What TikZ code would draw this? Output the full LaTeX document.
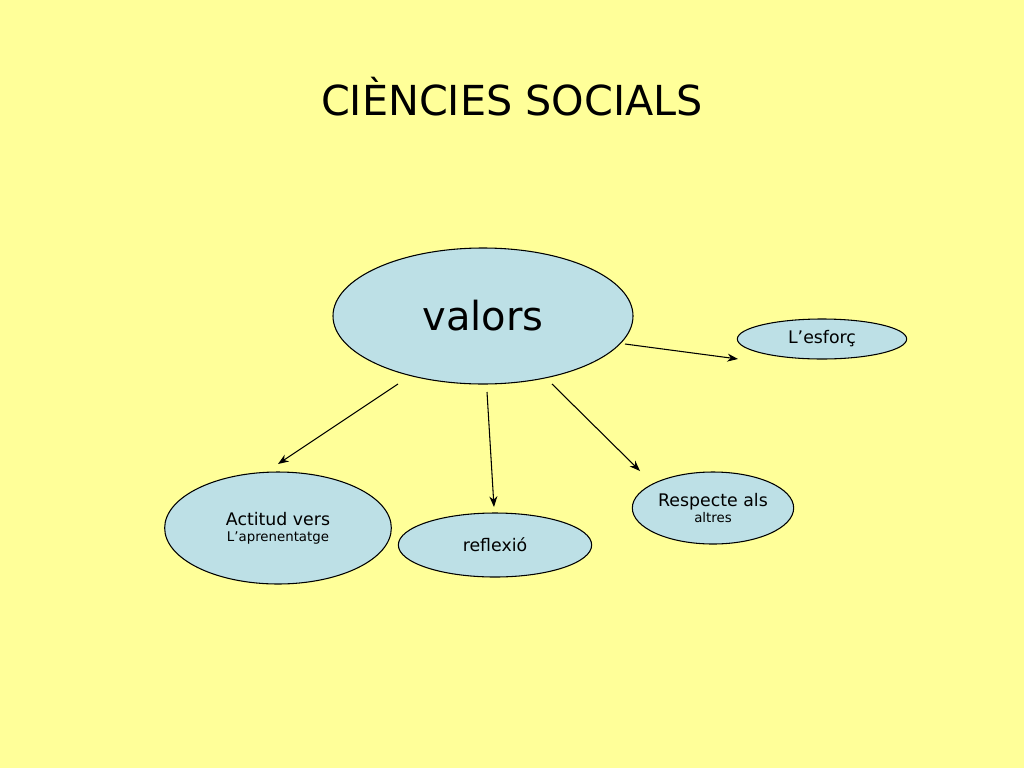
\documentclass[tikz,border=0pt]{standalone}
\usepackage{fontspec}
\setmainfont{DejaVu Sans}
\usetikzlibrary{shapes.geometric,arrows.meta}
\begin{document}
\begin{tikzpicture}[x=0.75pt,y=-0.75pt,
  bub/.style={ellipse,draw=black,fill=cyan!20!blue!10!white,fill=bubfill,line width=0.8pt,inner sep=0pt,align=center},
  arr/.style={-{Stealth[length=8pt,width=6pt]},line width=0.8pt}]
\definecolor{bg}{HTML}{FFFF99}
\definecolor{bubfill}{HTML}{BDE0E6}
\fill[bg] (0,0) rectangle (1024,768);
\useasboundingbox (0,0) rectangle (1024,768);
\node (title) at (512,97) {\fontsize{31}{36}\selectfont CIÈNCIES SOCIALS};
\node[bub,minimum width=300\pgflinewidth*0+225pt,minimum height=102pt] (val) at (483,316) {\fontsize{30}{34}\selectfont valors};
\node[bub,minimum width=127pt,minimum height=30pt] (esf) at (822,339) {\fontsize{13}{15}\selectfont L’esforç};
\node[bub,minimum width=170pt,minimum height=84pt] (act) at (278,528) {\fontsize{13}{17}\selectfont Actitud vers\\L’aprenentatge};
\node[bub,minimum width=145pt,minimum height=48pt] (ref) at (495,545) {\fontsize{13}{15}\selectfont reflexió};
\node[bub,minimum width=121pt,minimum height=54pt] (res) at (713,508) {\fontsize{13}{17}\selectfont Respecte als\\altres};
\coordinate (a1) at (398,384); \coordinate (b1) at (278,464);
\coordinate (a2) at (487,392); \coordinate (b2) at (494,507);
\coordinate (a3) at (552,384); \coordinate (b3) at (640,471);
\coordinate (a4) at (625,344); \coordinate (b4) at (738,359);
\draw[arr] (a1) -- (b1);
\draw[arr] (a2) -- (b2);
\draw[arr] (a3) -- (b3);
\draw[arr] (a4) -- (b4);
\end{tikzpicture}
\end{document}
